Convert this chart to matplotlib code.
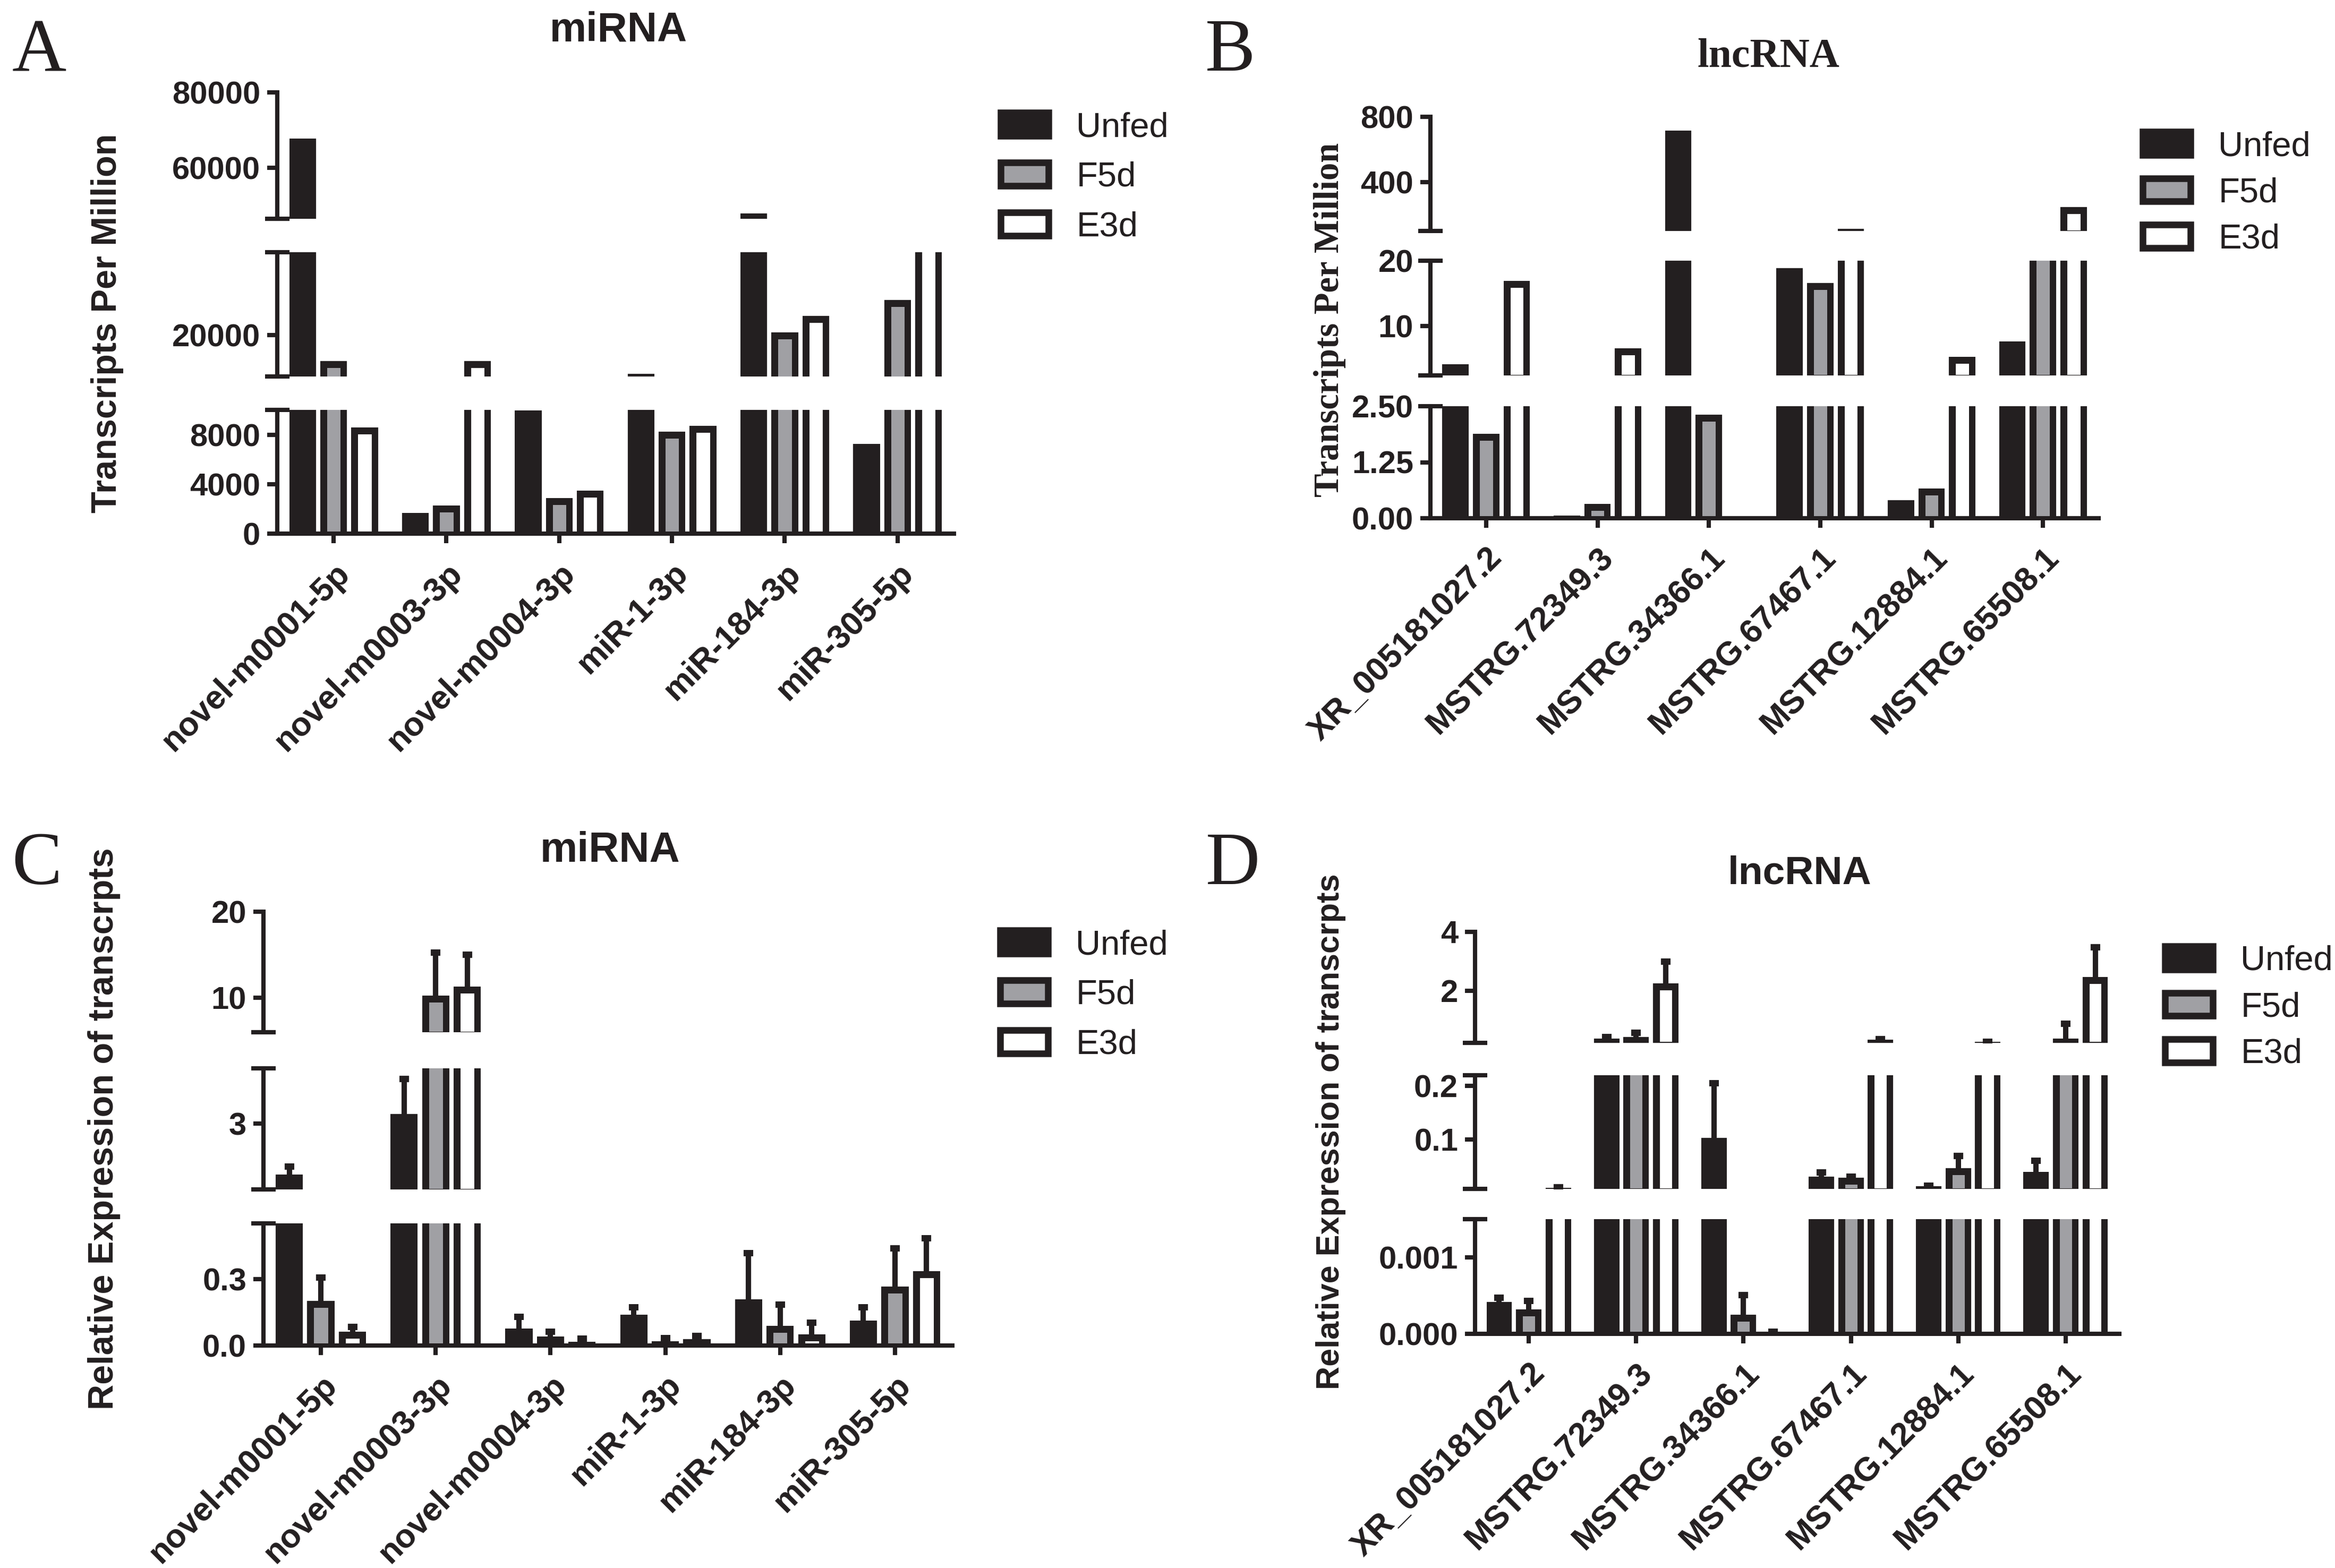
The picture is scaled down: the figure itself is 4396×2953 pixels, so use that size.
"""Broken-axis grouped bars: miRNA / lncRNA TPM (A, B) and relative expression (C, D)."""

import matplotlib

matplotlib.use("Agg")
import matplotlib.pyplot as plt
import numpy as np
from matplotlib.patches import Patch

W, H, DPI = 4396, 2953, 100
INK = "#231f20"
GREY = "#a0a0a4"
SANS = ["Liberation Sans", "DejaVu Sans"]
SERIF = ["Liberation Serif", "DejaVu Serif"]

plt.rcParams["font.family"] = SANS
plt.rcParams["text.color"] = INK
plt.rcParams["axes.edgecolor"] = INK
plt.rcParams["xtick.color"] = INK
plt.rcParams["ytick.color"] = INK

groups = ["Unfed", "F5d", "E3d"]
fills = [INK, GREY, "white"]

mirna_names = ["novel-m0001-5p", "novel-m0003-3p", "novel-m0004-3p",
               "miR-1-3p", "miR-184-3p", "miR-305-5p"]
lnc_names = ["XR_005181027.2", "MSTRG.72349.3", "MSTRG.34366.1",
             "MSTRG.67467.1", "MSTRG.12884.1", "MSTRG.65508.1"]

# A: miRNA, transcripts per million
tpm_mirna_unfed = [67750, 1680, 9950, 10640, 47900, 7270]
tpm_mirna_f5d = [13700, 2280, 2880, 8220, 20640, 28460]
tpm_mirna_e3d = [8600, 13700, 3480, 8730, 24600, 42000]

# B: lncRNA, transcripts per million
tpm_lnc_unfed = [4.2, 0.06, 716, 18.9, 0.40, 7.7]
tpm_lnc_f5d = [1.88, 0.32, 2.31, 16.6, 0.66, 45]
tpm_lnc_e3d = [16.9, 6.6, 0.0, 112, 5.3, 246]

# C: miRNA, relative expression (mean, upper error)
rel_mirna_unfed = [1.14, 3.34, 0.076, 0.139, 0.209, 0.113]
rel_mirna_unfed_err = [0.29, 1.27, 0.053, 0.034, 0.207, 0.060]
rel_mirna_f5d = [0.20, 10.25, 0.041, 0.020, 0.089, 0.266]
rel_mirna_f5d_err = [0.106, 4.98, 0.020, 0.014, 0.094, 0.171]
rel_mirna_e3d = [0.061, 11.3, 0.017, 0.029, 0.051, 0.334]
rel_mirna_e3d_err = [0.023, 3.73, 0.014, 0.014, 0.052, 0.149]

# D: lncRNA, relative expression (mean, upper error)
rel_lnc_unfed = [0.00042, 0.36, 0.103, 0.030, 0.012, 0.039]
rel_lnc_unfed_err = [0.00005, 0.05, 0.102, 0.008, 0.001, 0.021]
rel_lnc_f5d = [0.00032, 0.42, 0.00025, 0.028, 0.046, 0.36]
rel_lnc_f5d_err = [0.00011, 0.14, 0.00026, 0.002, 0.023, 0.51]
rel_lnc_e3d = [0.009, 2.25, 0.00003, 0.33, 0.25, 2.47]
rel_lnc_e3d_err = [0.0005, 0.73, 0.0, 0.02, 0.0, 1.0]

BAR_W = 0.237
OFFSET = 0.275


def seg_axes(fig, x0, x1, ytop, ybot):
    return fig.add_axes([x0 / W, 1 - ybot / H, (x1 - x0) / W, (ybot - ytop) / H])


def draw_panel(fig, x0, x1, segments, names, series, errors=None):
    """segments: (ytop_px, ybot_px, lo, hi, ticks, labels), top to bottom."""
    x = np.arange(len(names))
    cap = 23 / (x1 - x0)
    last = len(segments) - 1
    for k, (ytop, ybot, lo, hi, ticks, labels) in enumerate(segments):
        ax = seg_axes(fig, x0, x1, ytop, ybot)
        base = lo - 0.05 * (hi - lo)
        for j, vals in enumerate(series):
            xs = x + (j - 1) * OFFSET
            vals = np.asarray(vals, dtype=float)
            bars = ax.bar(xs, vals - base, bottom=base, width=BAR_W, color=fills[j],
                          edgecolor=INK, linewidth=18, zorder=1)
            # keep the outline inside the bar, like Prism does
            for b in bars:
                b.set_clip_path(b.get_path(), b.get_transform())
            if errors is not None:
                top = vals + np.asarray(errors[j])
                ax.vlines(xs, vals, top, color=INK, lw=7.2, zorder=2)
                # caps only in the segment that holds them
                caps = np.where((top >= lo) & (top <= hi), top, np.nan)
                ax.plot(xs, caps, ls="none", marker="_", ms=13, mew=8.6, color=INK, zorder=2)
        ax.set_xlim(-0.5, len(names) - 0.5)
        ax.set_ylim(lo, hi)
        ax.patch.set_visible(False)
        for side in ("top", "right"):
            ax.spines[side].set_visible(False)
        ax.spines["left"].set_linewidth(5.8)
        ax.spines["bottom"].set_linewidth(5.8)
        ax.set_yticks(ticks, labels, fontsize=43, fontweight="bold")
        ax.tick_params(axis="y", direction="out", length=14, width=5.8, pad=9)
        if k == last:
            ax.set_xticks(x, names, rotation=45, ha="right", va="top",
                          rotation_mode="anchor", fontsize=45, fontweight="bold")
            ax.tick_params(axis="x", direction="out", length=13, width=5.8, pad=19)
        else:
            ax.spines["bottom"].set_visible(False)
            ax.set_xticks([])
        # short bars across the axis where it is broken
        ends = []
        if k > 0:
            ends.append(1)
        if k < last:
            ends.append(0)
        for e in ends:
            ax.plot([-cap, cap], [e, e], transform=ax.transAxes, color=INK, lw=5.8,
                    clip_on=False, solid_capstyle="butt")


def add_legend(fig, left, first_row, spacing):
    handles = [Patch(facecolor=f, edgecolor=INK, linewidth=9) for f in fills]
    fig.legend(handles, groups, loc="upper left",
               bbox_to_anchor=(left / W, 1 - (first_row - 24) / H),
               bbox_transform=fig.transFigure, frameon=False, borderpad=0,
               borderaxespad=0, fontsize=47, handlelength=1.38, handleheight=0.65,
               handletextpad=0.8, labelspacing=spacing)


def ftext(fig, x, y, s, **kw):
    fig.text(x / W, 1 - y / H, s, **kw)


fig = plt.figure(figsize=(W / DPI, H / DPI), dpi=DPI)

# ---- A
draw_panel(fig, 522, 1796, [
    (174, 412, 46500, 80000, [60000, 80000], ["60000", "80000"]),
    (475, 709, 10000, 40000, [20000], ["20000"]),
    (772, 1005, 0, 10000, [0, 4000, 8000], ["0", "4000", "8000"]),
], mirna_names, [tpm_mirna_unfed, tpm_mirna_f5d, tpm_mirna_e3d])
ftext(fig, 1164, 78, "miRNA", ha="center", va="baseline", fontsize=56, fontweight="bold")
ftext(fig, 74, 133, "A", ha="center", va="baseline", fontsize=102, family=SERIF)
ftext(fig, 202, 609, "Transcripts Per Million", rotation=90, ha="center", va="center",
      fontsize=48, fontweight="bold")
add_legend(fig, 1884, 234, 0.52)

# ---- B
draw_panel(fig, 2693, 3951, [
    (220, 435, 100, 800, [400, 800], ["400", "800"]),
    (491, 707, 2.5, 20, [10, 20], ["10", "20"]),
    (765, 976, 0, 2.5, [0, 1.25, 2.5], ["0.00", "1.25", "2.50"]),
], lnc_names, [tpm_lnc_unfed, tpm_lnc_f5d, tpm_lnc_e3d])
ftext(fig, 3329, 126, "lncRNA", ha="center", va="baseline", fontsize=56,
      fontweight="bold", family=SERIF)
ftext(fig, 2316, 133, "B", ha="center", va="baseline", fontsize=102, family=SERIF)
ftext(fig, 2504, 602, "Transcripts Per Million", rotation=90, ha="center", va="center",
      fontsize=48, fontweight="bold", family=SERIF)
add_legend(fig, 4034, 270, 0.42)

# ---- C
draw_panel(fig, 496, 1793, [
    (1717, 1944, 6, 20, [10, 20], ["10", "20"]),
    (2012, 2240, 0.6, 5, [3], ["3"]),
    (2304, 2534, 0, 0.55, [0, 0.3], ["0.0", "0.3"]),
], mirna_names, [rel_mirna_unfed, rel_mirna_f5d, rel_mirna_e3d],
    [rel_mirna_unfed_err, rel_mirna_f5d_err, rel_mirna_e3d_err])
ftext(fig, 1148, 1623, "miRNA", ha="center", va="baseline", fontsize=57, fontweight="bold")
ftext(fig, 69, 1665, "C", ha="center", va="baseline", fontsize=102, family=SERIF)
ftext(fig, 196, 2126, "Relative Expression of transcrpts", rotation=90, ha="center",
      va="center", fontsize=48, fontweight="bold")
add_legend(fig, 1883, 1774, 0.52)

# ---- D
draw_panel(fig, 2777, 3990, [
    (1755, 1964, 0.22, 4, [2, 4], ["2", "4"]),
    (2025, 2239, 0.007, 0.22, [0.1, 0.2], ["0.1", "0.2"]),
    (2296, 2512, 0, 0.0015, [0, 0.001], ["0.000", "0.001"]),
], lnc_names, [rel_lnc_unfed, rel_lnc_f5d, rel_lnc_e3d],
    [rel_lnc_unfed_err, rel_lnc_f5d_err, rel_lnc_e3d_err])
ftext(fig, 3388, 1665, "lncRNA", ha="center", va="baseline", fontsize=54, fontweight="bold")
ftext(fig, 2321, 1665, "D", ha="center", va="baseline", fontsize=102, family=SERIF)
ftext(fig, 2505, 2131, "Relative Expression of transcrpts", rotation=90, ha="center",
      va="center", fontsize=44, fontweight="bold")
add_legend(fig, 4076, 1804, 0.42)

fig.savefig("out.png", dpi=DPI)
